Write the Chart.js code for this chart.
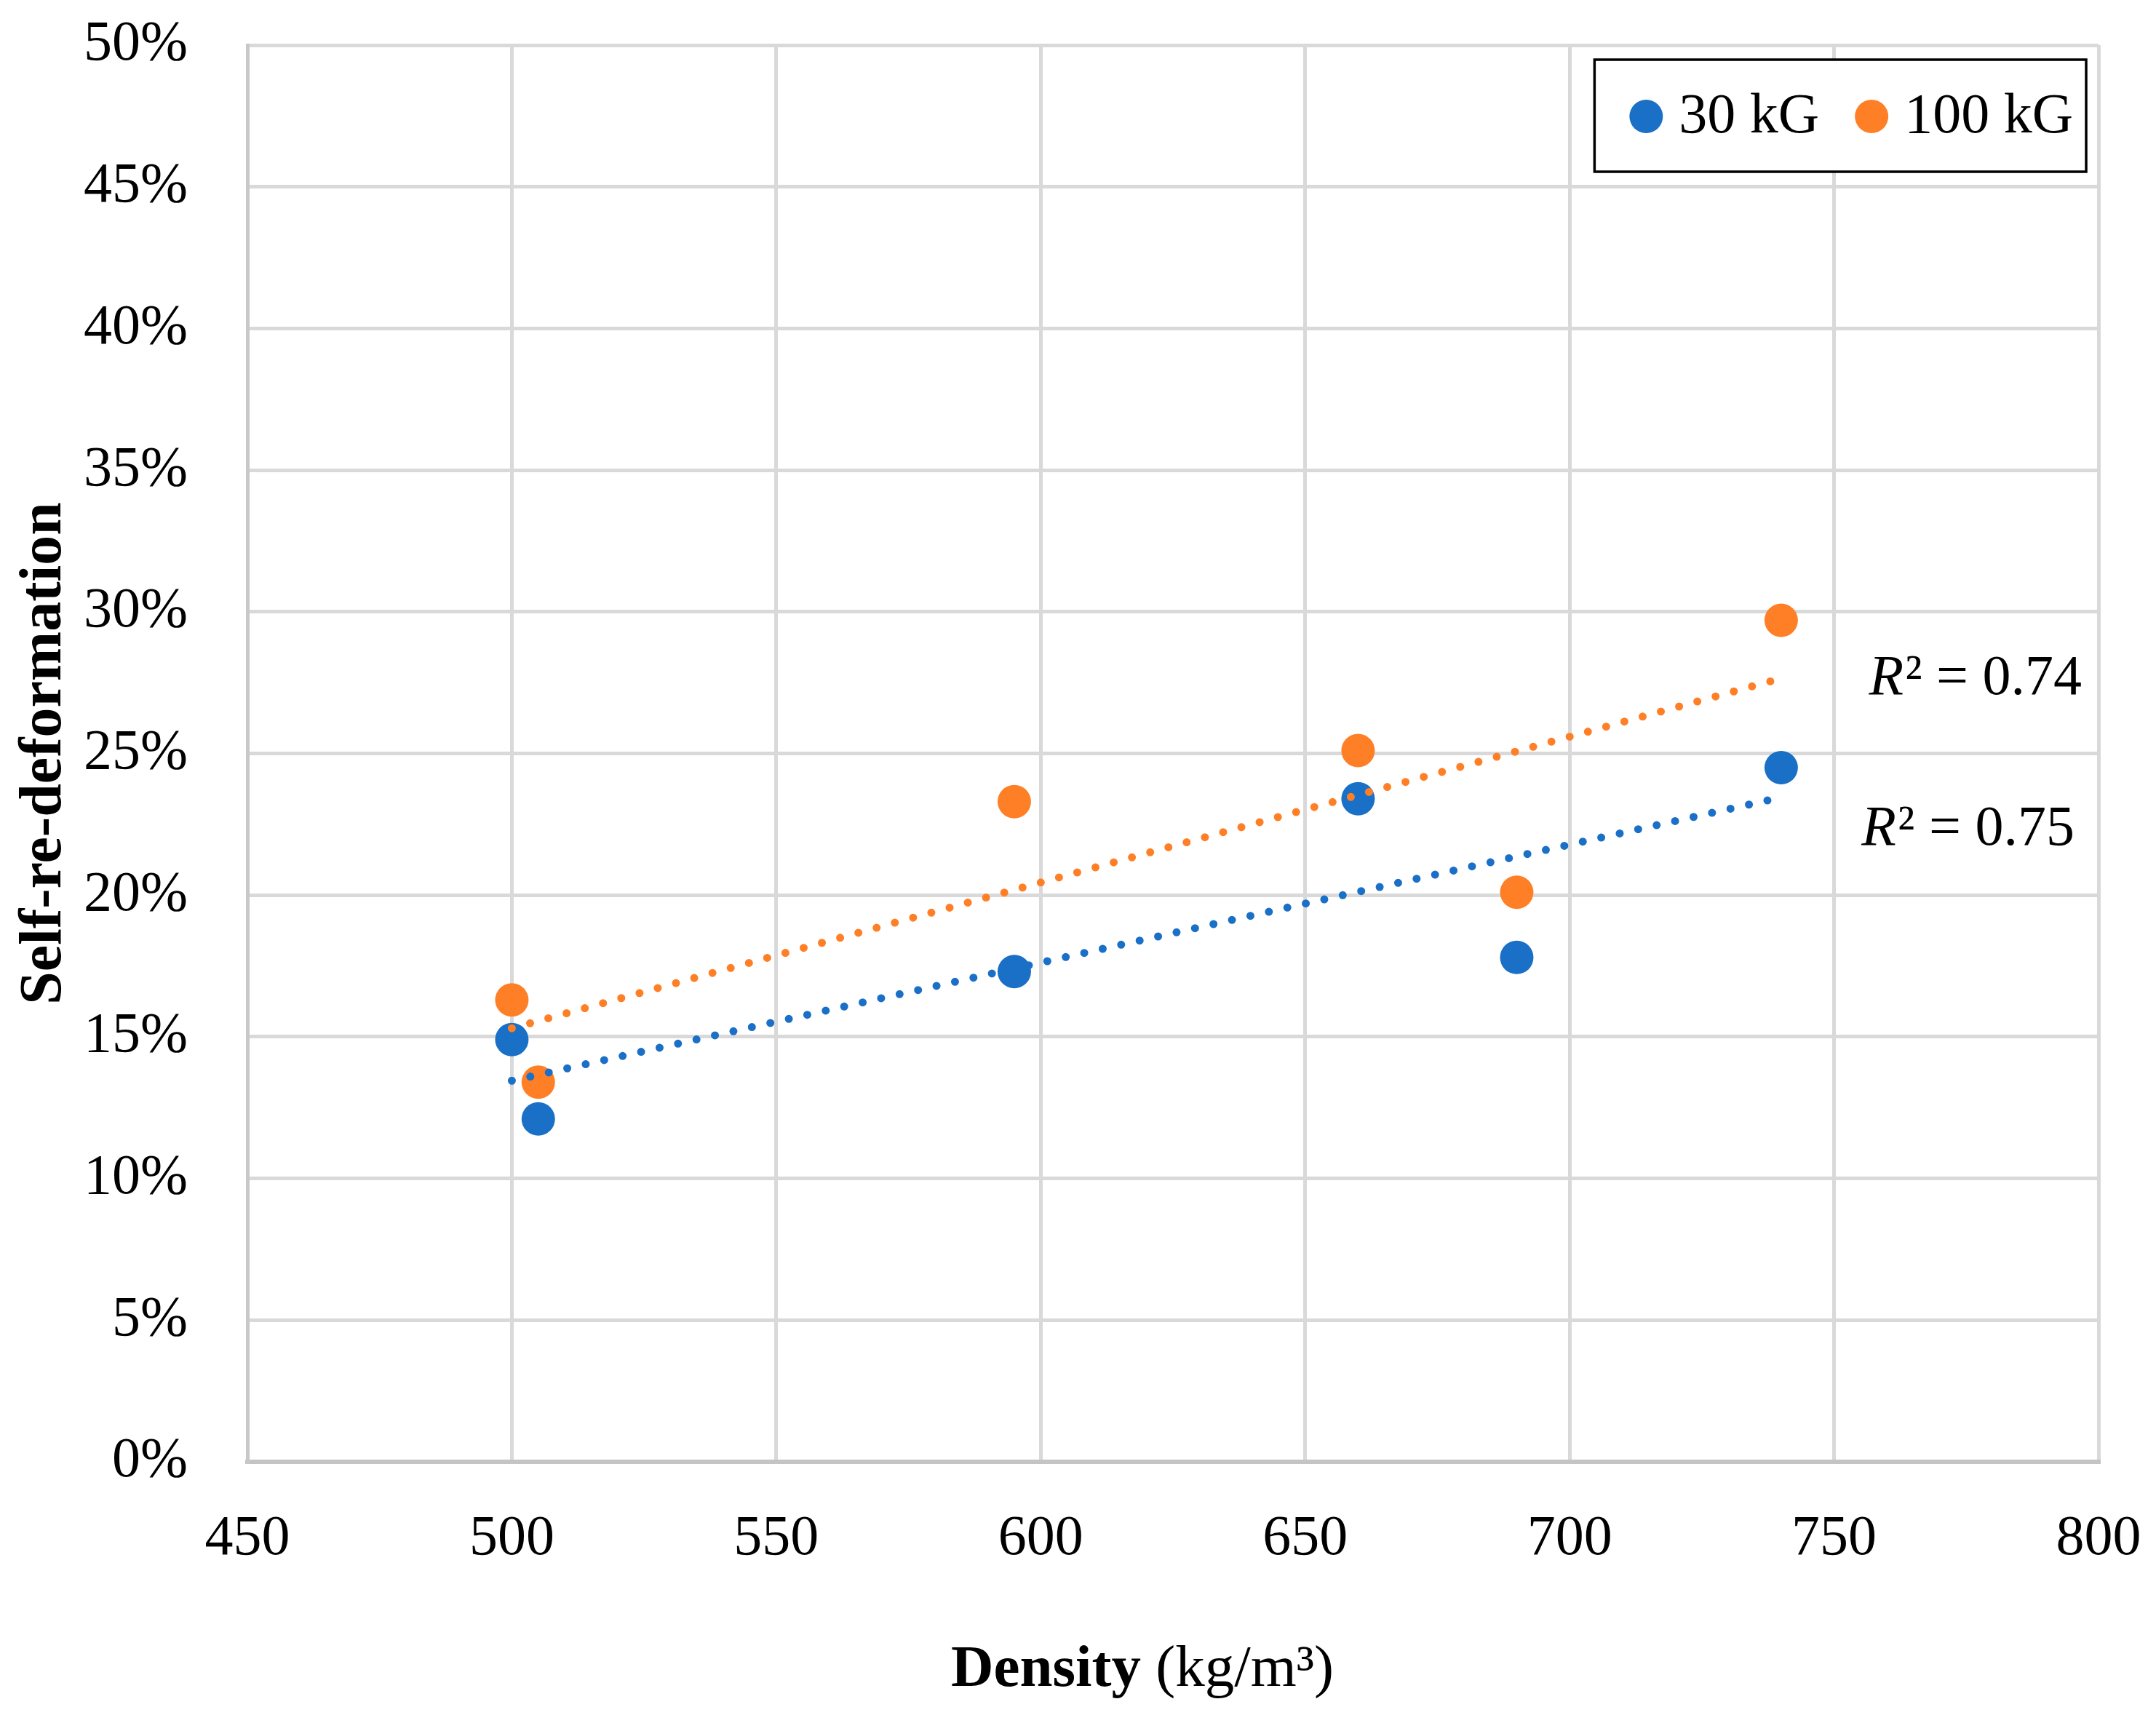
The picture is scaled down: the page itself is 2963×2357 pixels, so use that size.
<!DOCTYPE html>
<html>
<head>
<meta charset="utf-8">
<script src="https://cdn.jsdelivr.net/npm/chart.js@4.4.1/dist/chart.umd.min.js"></script>
<style>
  html, body { margin: 0; padding: 0; background: #fff; }
  #wrap { width: 2963px; height: 2357px; }
</style>
</head>
<body>
<div id="wrap"><canvas id="myChart" width="2963" height="2357"></canvas></div>
<script>
// values
var seriesNames = ["30 kG", "100 kG"];
var density30 = [500, 505, 595, 660, 690, 740];
var deform30 = [14.9, 12.1, 17.3, 23.4, 17.8, 24.5];
var density100 = [500, 505, 595, 660, 690, 740];
var deform100 = [16.3, 13.4, 23.3, 25.1, 20.1, 29.7];
var trendX = [500, 740];
var trend30 = [13.45, 23.45];
var trend100 = [15.3, 27.65];
var r2Text = ["0.75", "0.74"];

var blue = "#1a6fc6";
var orange = "#ff7f27";
var serif = "'Liberation Serif', 'Times New Roman', serif";

function toPoints(xs, ys) {
    return xs.map(function (x, i) {
        return { x: x, y: ys[i] };
    });
}

// legend box, R² labels and the mixed-weight x title
var extrasPlugin = {
    id: "extras",
    afterDraw: function (chart) {
        var ctx = chart.ctx;
        var area = chart.chartArea;
        var xs = chart.scales.x;
        var ys = chart.scales.y;
        ctx.save();
        ctx.fillStyle = "#000";
        ctx.textBaseline = "alphabetic";

        // R² labels next to the trend line ends
        var r2Pos = [
            { x: 755.2, y: 21.78 },
            { x: 756.6, y: 27.09 },
        ];
        r2Pos.forEach(function (p, i) {
            var px = xs.getPixelForValue(p.x);
            var py = ys.getPixelForValue(p.y);
            ctx.textAlign = "left";
            ctx.font = "italic 78px " + serif;
            ctx.fillText("R", px, py);
            var w = ctx.measureText("R").width;
            ctx.font = "78px " + serif;
            ctx.fillText("\u00b2 = " + r2Text[i], px + w + 2, py);
        });

        // legend
        ctx.font = "78px " + serif;
        var colors = [blue, orange];
        var w1 = ctx.measureText(seriesNames[0]).width;
        var w2 = ctx.measureText(seriesNames[1]).width;
        var r = 23;
        var boxW = 48 + 2 * r + 22 + w1 + 49 + 2 * r + 22 + w2 + 18;
        var boxR = area.right - 17;
        var boxL = boxR - boxW;
        var boxT = area.top + 20;
        var boxH = 154;
        ctx.fillStyle = "#fff";
        ctx.fillRect(boxL, boxT, boxW, boxH);
        ctx.strokeStyle = "#000";
        ctx.lineWidth = 3.5;
        ctx.strokeRect(boxL, boxT, boxW, boxH);
        var cx = boxL + 48 + r;
        var cy = boxT + 78;
        [w1, w2].forEach(function (w, i) {
            ctx.beginPath();
            ctx.fillStyle = colors[i];
            ctx.arc(cx, cy, r, 0, Math.PI * 2);
            ctx.fill();
            ctx.fillStyle = "#000";
            ctx.textAlign = "left";
            ctx.fillText(seriesNames[i], cx + r + 22, boxT + 100);
            cx = cx + r + 22 + w + 49 + r;
        });

        // x axis title: "Density" bold, unit regular
        var bold = "bold 81px " + serif;
        var reg = "81px " + serif;
        ctx.font = bold;
        var t1 = "Density";
        var tw1 = ctx.measureText(t1).width;
        ctx.font = reg;
        var t2 = " (kg/m\u00b3)";
        var tw2 = ctx.measureText(t2).width;
        var left = (area.left + area.right) / 2 - 42 - (tw1 + tw2) / 2;
        var base = 2317;
        ctx.fillStyle = "#000";
        ctx.textAlign = "left";
        ctx.font = bold;
        ctx.fillText(t1, left, base);
        ctx.font = reg;
        ctx.fillText(t2, left + tw1, base);
        ctx.restore();
    },
};

var ctx = document.getElementById("myChart");
new Chart(ctx, {
    type: "scatter",
    data: {
        datasets: [
            {
                label: seriesNames[0] + " trend",
                data: toPoints(trendX, trend30),
                showLine: true,
                borderColor: blue,
                borderWidth: 11,
                borderDash: [0, 26],
                borderCapStyle: "round",
                pointRadius: 0,
                order: 0,
            },
            {
                label: seriesNames[1] + " trend",
                data: toPoints(trendX, trend100),
                showLine: true,
                borderColor: orange,
                borderWidth: 11,
                borderDash: [0, 26],
                borderCapStyle: "round",
                pointRadius: 0,
                order: 0,
            },
            {
                label: seriesNames[0],
                data: toPoints(density30, deform30),
                backgroundColor: blue,
                borderWidth: 0,
                pointRadius: 23,
                order: 2,
            },
            {
                label: seriesNames[1],
                data: toPoints(density100, deform100),
                backgroundColor: orange,
                borderWidth: 0,
                pointRadius: 23,
                order: 1,
            },
        ],
    },
    options: {
        responsive: false,
        animation: false,
        devicePixelRatio: 1,
        layout: {
            padding: { top: 62, right: 79, bottom: 0, left: 0 },
        },
        plugins: {
            legend: { display: false },
            tooltip: { enabled: false },
        },
        scales: {
            x: {
                type: "linear",
                min: 450,
                max: 800,
                ticks: {
                    stepSize: 50,
                    padding: 60,
                    color: "#000",
                    font: { family: serif, size: 78 },
                },
                grid: { color: "#d9d9d9", lineWidth: 5, drawTicks: false },
                border: { color: "#c4c4c4", width: 6 },
                afterFit: function (scale) {
                    scale.height = 348;
                    scale.paddingLeft = 0;
                    scale.paddingRight = 0;
                },
            },
            y: {
                min: 0,
                max: 50,
                ticks: {
                    stepSize: 5,
                    padding: 82,
                    color: "#000",
                    font: { family: serif, size: 78 },
                    callback: function (v) {
                        return v + "%";
                    },
                },
                grid: { color: "#d9d9d9", lineWidth: 5, drawTicks: false },
                border: { color: "#c8c8c8", width: 5 },
                title: {
                    display: true,
                    text: "Self-re-deformation",
                    color: "#000",
                    font: { family: serif, size: 82, weight: "bold" },
                    padding: { top: 13, bottom: 0 },
                },
                afterFit: function (scale) {
                    scale.width = 340;
                    scale.paddingTop = 0;
                    scale.paddingBottom = 0;
                },
            },
        },
    },
    plugins: [extrasPlugin],
});
</script>
</body>
</html>
